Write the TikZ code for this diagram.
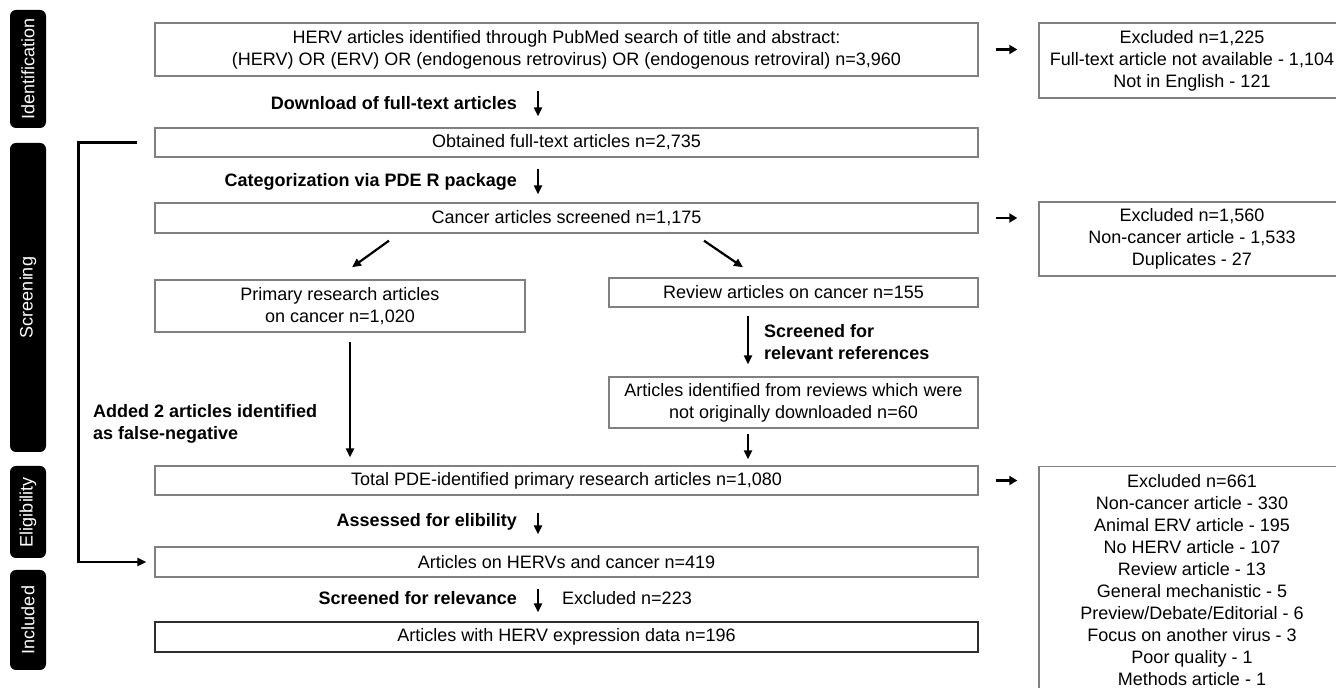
\documentclass[tikz,border=0pt]{standalone}
\usepackage{fontspec}
\setmainfont{Liberation Sans}
\usetikzlibrary{arrows.meta}
\definecolor{boxline}{HTML}{808080}
\definecolor{darkline}{HTML}{2E2E2E}

\begin{document}
\begin{tikzpicture}[x=1pt,y=1pt,
  every node/.style={font=\fontsize{18}{22}\selectfont,text=black,inner sep=0pt},
  box/.style={draw=boxline,line width=1.4pt,align=center},
  mainbox/.style={box,minimum width=823pt},
  sidebox/.style={box,minimum width=306pt},
  lab/.style={font=\fontsize{18}{22}\selectfont\bfseries,align=left},
  arr/.style={line width=2.2pt,-{Triangle[length=9pt,width=8pt]}},
  harr/.style={line width=2.8pt,-{Triangle[length=8pt,width=9pt]}},
  phase/.style={fill=black,rounded corners=6pt,rotate=90,text=white,minimum height=36pt}]
\path[use as bounding box,clip] (0,0) rectangle (1336,688);
% Phase bars on the left.
\foreach \name/\ymid/\len in {Identification/619/118,Screening/390.5/309,Eligibility/176/92,Included/68/100}{
  \node[phase,minimum width=\len pt] (\name) at (28,\ymid) {\name};
}
% Main column of records.
\node[mainbox,minimum height=53pt] (search) at (566.5,638.5) {HERV articles identified through PubMed search of title and abstract:\\(HERV) OR (ERV) OR (endogenous retrovirus) OR (endogenous retroviral) n=3,960};
\node[mainbox,minimum height=29pt] (obtained) at (566.5,545.5) {Obtained full-text articles n=2,735};
\node[mainbox,minimum height=30pt] (cancer) at (566.5,470) {Cancer articles screened n=1,175};
\node[box,minimum width=370pt,minimum height=52pt] (primary) at (340,382) {Primary research articles\\on cancer n=1,020};
\node[box,minimum width=369pt,minimum height=29pt] (review) at (793.5,395.5) {Review articles on cancer n=155};
\node[box,minimum width=369pt,minimum height=51pt] (fromrev) at (793.5,285.5) {Articles identified from reviews which were\\not originally downloaded n=60};
\node[mainbox,minimum height=29pt] (total) at (566.5,207.5) {Total PDE-identified primary research articles n=1,080};
\node[mainbox,minimum height=30pt] (hervs) at (566.5,126) {Articles on HERVs and cancer n=419};
\node[mainbox,minimum height=30pt,draw=darkline] (expr) at (566.5,51) {Articles with HERV expression data n=196};
% Exclusion boxes on the right.
\node[sidebox,minimum height=75pt] (excl1) at (1192,627.5) {Excluded n=1,225\\Full-text article not available - 1,104\\Not in English - 121};
\node[sidebox,minimum height=74pt] (excl2) at (1192,449) {Excluded n=1,560\\Non-cancer article - 1,533\\Duplicates - 27};
\node[sidebox,anchor=north,inner ysep=8pt] (excl3) at (1192,222) {Excluded n=661\\Non-cancer article - 330\\Animal ERV article - 195\\No HERV article - 107\\Review article - 13\\General mechanistic - 5\\Preview/Debate/Editorial - 6\\Focus on another virus - 3\\Poor quality - 1\\Methods article - 1};
% Step labels.
\node[lab,anchor=east] (dltxt) at (517,585) {Download of full-text articles};
\node[lab,anchor=east] (cattxt) at (517,506) {Categorization via PDE R package};
\node[lab,anchor=east] (asstxt) at (517,166) {Assessed for elibility};
\node[lab,anchor=east] (scrtxt) at (517,90) {Screened for relevance};
\node[anchor=west] (excltxt) at (562,90) {Excluded n=223};
\node[lab,anchor=west] (reftxt) at (764,345.5) {Screened for\\relevant references};
\node[lab,anchor=west] (addtxt) at (93,264) {Added 2 articles identified\\as false-negative};
% Arrows.
\coordinate (mid) at (538,0);
\coordinate (left) at (350,0);
\coordinate (right) at (748,0);
\draw[arr,shorten <=14pt,shorten >=11pt] (search.south -| mid) -- (obtained.north -| mid);
\draw[arr,shorten <=11pt,shorten >=8pt] (obtained.south -| mid) -- (cancer.north -| mid);
\draw[arr,shorten <=17pt,shorten >=12pt] (total.south -| mid) -- (hervs.north -| mid);
\draw[arr,shorten <=11pt,shorten >=9pt] (hervs.south -| mid) -- (expr.north -| mid);
\foreach \src/\dst in {search/excl1,cancer/excl2,total/excl3}
  \draw[harr,shorten <=17pt,shorten >=21pt] (\src.east) -- (\src.east -| \dst.west);
\draw[arr] ([xshift=-177.5pt,yshift=-7pt]cancer.south) -- ([xshift=12pt,yshift=12pt]primary.north);
\draw[arr] ([xshift=137.5pt,yshift=-7pt]cancer.south) -- ([xshift=-50.5pt,yshift=10pt]review.north);
\draw[arr,shorten <=9pt,shorten >=8pt] (primary.south -| left) -- (total.north -| left);
\draw[arr,shorten <=8pt,shorten >=12pt] (review.south -| right) -- (fromrev.north -| right);
\draw[arr,shorten <=5pt,shorten >=6pt] (fromrev.south -| right) -- (total.north -| right);
\draw[arr,line width=2.6pt] ([xshift=-17pt]obtained.west) -- ++(-59,0) |- ([xshift=-8pt]hervs.west);
\end{tikzpicture}
\end{document}
